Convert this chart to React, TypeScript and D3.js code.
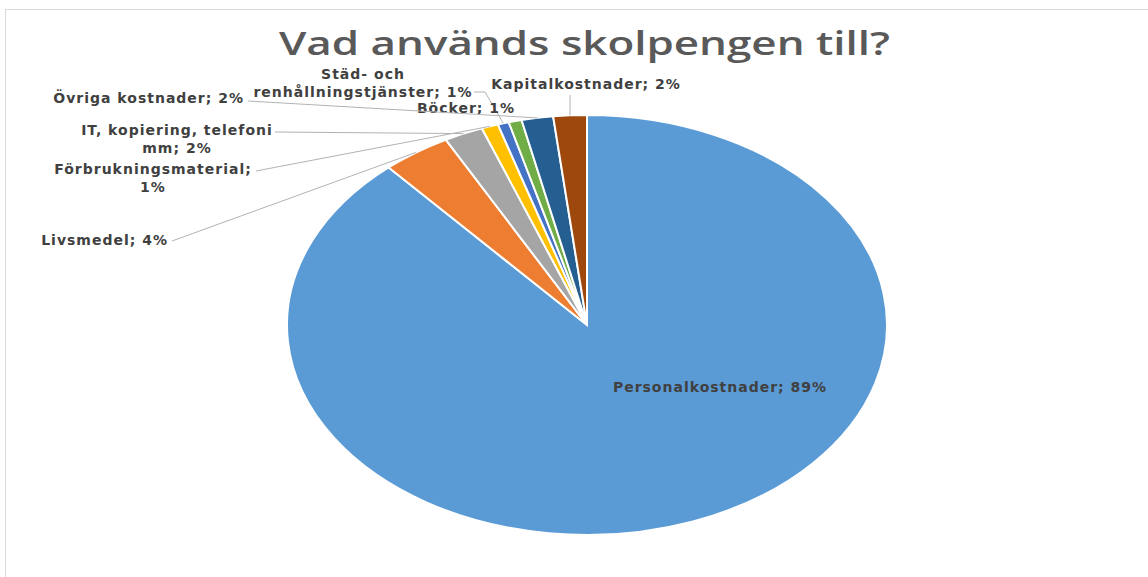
import * as d3 from 'd3';

// slices in Excel order, clockwise from 12 o'clock
const categories = [
  'Personalkostnader',
  'Livsmedel',
  'IT, kopiering, telefoni mm',
  'Förbrukningsmaterial',
  'Städ- och renhållningstjänster',
  'Böcker',
  'Övriga kostnader',
  'Kapitalkostnader',
];
const shares = [88.5, 3.7, 2.1, 0.9, 0.6, 0.7, 1.7, 1.8];
const colors = ['#5B9BD5', '#ED7D31', '#A5A5A5', '#FFC000', '#4472C4', '#70AD47', '#255E91', '#9E480E'];

const title = 'Vad används skolpengen till?';

// where Excel put each data label (same order as categories)
const labelLayout = [
  { x: 720, y: 392, anchor: 'middle', firstLine: 99, leader: null },
  { x: 168, y: 245, anchor: 'end', firstLine: 99, leader: [172, 241] },
  { x: 177, y: 135, anchor: 'middle', firstLine: 3, leader: [275, 132] },
  { x: 153, y: 174, anchor: 'middle', firstLine: 1, leader: [256, 171] },
  { x: 363, y: 79, anchor: 'middle', firstLine: 2, leader: [474, 92], elbow: [485, 92] },
  { x: 466, y: 113, anchor: 'middle', firstLine: 99, leader: null },
  { x: 244, y: 103, anchor: 'end', firstLine: 99, leader: [248, 101] },
  { x: 586, y: 89, anchor: 'middle', firstLine: 99, leader: 'up' },
];

const W = 1148;
const H = 577;
const cx = 587;
const cy = 325;
const rx = 300;
const ry = 210;

export default function App() {
  const pie = d3.pie<number>().sort(null).value(d => d)(shares);
  const arc = d3.arc<d3.PieArcDatum<number>>().innerRadius(0).outerRadius(ry);
  const total = d3.sum(shares);

  const edge = (a: number) => [cx + rx * Math.sin(a), cy - ry * Math.cos(a)];

  return (
    <svg width={W} height={H} style={{ position: 'absolute', left: 0, top: 0 }}>
      <rect x={0} y={0} width={W} height={H} fill="#fff" />
      <rect x={5.5} y={9.5} width={W + 20} height={H + 20} fill="none" stroke="#d9d9d9" />
      <text
        x={584.5}
        y={55}
        textAnchor="middle"
        fontFamily="'Open Sans', sans-serif"
        fontWeight={600}
        fontSize={33}
        fill="#595959"
        textLength={611}
        lengthAdjust="spacingAndGlyphs"
      >
        {title}
      </text>

      <g transform={`translate(${cx},${cy}) scale(${rx / ry},1)`}>
        {pie.map((d, i) => (
          <path
            key={i}
            d={arc(d) || ''}
            fill={colors[i]}
            stroke="#fff"
            strokeWidth={2}
            vectorEffect="non-scaling-stroke"
          />
        ))}
      </g>

      {pie.map((d, i) => {
        const lay = labelLayout[i];
        const pct = Math.round((shares[i] / total) * 100);
        const words = `${categories[i]}; ${pct}%`.split(' ');
        const lines =
          lay.firstLine >= words.length
            ? [words.join(' ')]
            : [words.slice(0, lay.firstLine).join(' '), words.slice(lay.firstLine).join(' ')];
        const mid = (d.startAngle + d.endAngle) / 2;
        const [ex, ey] = edge(mid);
        let pts: number[][] | null = null;
        if (lay.leader === 'up') pts = [[ex, 95], [ex, ey]];
        else if (Array.isArray(lay.leader)) {
          pts = lay.elbow ? [lay.leader, lay.elbow, [ex, ey]] : [lay.leader, [ex, ey]];
        }
        return (
          <g key={i}>
            {pts && (
              <path d={d3.line()(pts as [number, number][]) || ''} fill="none" stroke="#b3b3b3" strokeWidth={1} />
            )}
            <text
              textAnchor={lay.anchor}
              fontFamily="'DejaVu Sans', sans-serif"
              fontWeight="bold"
              fontSize={14}
              letterSpacing={1}
              fill="#404040"
            >
              {lines.map((t, j) => (
                <tspan key={j} x={lay.x} y={lay.y + j * 18}>
                  {t}
                </tspan>
              ))}
            </text>
          </g>
        );
      })}
    </svg>
  );
}
